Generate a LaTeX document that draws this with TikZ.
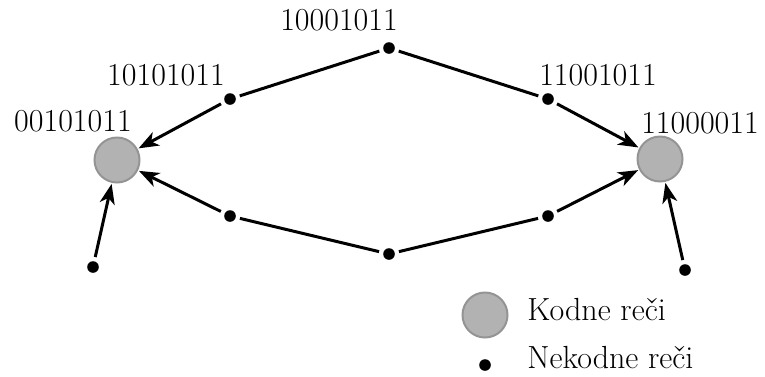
\documentclass[tikz,border=0pt]{standalone}
\usetikzlibrary{arrows.meta}
\begin{document}
\begin{tikzpicture}[x=0.5pt,y=-0.5pt,
  codeword/.style={circle,fill=black!30,draw=black!42,line width=1pt,minimum size=22.5pt,inner sep=0pt},
  plainword/.style={circle,fill=black,minimum size=5.8pt,inner sep=0pt},
  lbl/.style={font=\fontsize{16}{19}\selectfont,inner sep=0pt},
  edge/.style={line width=1.5pt,shorten <=2pt,shorten >=2pt},
  arr/.style={edge,shorten >=0.5pt,-{Stealth[length=10pt,width=7.5pt,inset=2.8pt]}}]
\useasboundingbox (0,0) rectangle (765,376);
% code words
\node[codeword] (L) at (117,160) {};
\node[codeword] (R) at (660,159) {};
% non-code words
\node[plainword] (T)  at (389,48) {};
\node[plainword] (TL) at (230,99) {};
\node[plainword] (TR) at (548,99) {};
\node[plainword] (BL) at (230,216) {};
\node[plainword] (B)  at (389,254) {};
\node[plainword] (BR) at (548,216) {};
\node[plainword] (OL) at (93,267) {};
\node[plainword] (OR) at (685,270) {};
% labels
\node[lbl] (lT)  at (339,20)  {10001011};
\node[lbl] (lTL) at (166,75)  {10101011};
\node[lbl] (lTR) at (598,75)  {11001011};
\node[lbl] (lL)  at (73,121)  {00101011};
\node[lbl] (lR)  at (700,123) {11000011};
% connections
\draw[edge] (T) -- (TL);
\draw[edge] (T) -- (TR);
\draw[edge] (B) -- (BL);
\draw[edge] (B) -- (BR);
\draw[arr] (TL) -- (L);
\draw[arr] (BL) -- (L);
\draw[arr] (OL) -- (L);
\draw[arr] (TR) -- (R);
\draw[arr] (BR) -- (R);
\draw[arr] (OR) -- (R);
% legend
\node[codeword] (kC) at (485,315) {};
\node[lbl,anchor=west] (kT) at (527,310) {Kodne reči};
\node[plainword] (nC) at (485,365) {};
\node[lbl,anchor=west] (nT) at (527,358) {Nekodne reči};
\end{tikzpicture}
\end{document}
